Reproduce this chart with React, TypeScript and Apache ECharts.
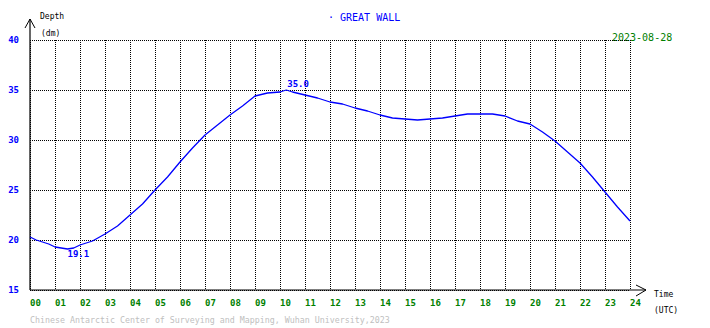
import React, { useEffect, useRef } from "react";
import * as echarts from "echarts";

const hours = [
  0, 0.25, 0.5, 0.75, 1, 1.25, 1.5, 1.75, 2, 2.5, 3, 3.5, 4, 4.5, 5, 5.5, 6, 6.5, 7,
  7.5, 8, 8.5, 9, 9.5, 10, 10.25, 10.5, 11, 11.5, 12, 12.5, 13, 13.5, 14, 14.5, 15,
  15.5, 16, 16.5, 17, 17.5, 18, 18.5, 19, 19.5, 20, 20.5, 21, 21.5, 22, 22.5, 23,
  23.5, 24,
];
const depth = [
  20.3, 20.0, 19.8, 19.6, 19.3, 19.2, 19.1, 19.2, 19.5, 19.9, 20.6, 21.4, 22.5, 23.6,
  25.0, 26.3, 27.8, 29.2, 30.5, 31.5, 32.5, 33.4, 34.4, 34.7, 34.8, 35.0, 34.8, 34.5,
  34.2, 33.8, 33.6, 33.2, 32.9, 32.5, 32.2, 32.1, 32.0, 32.1, 32.2, 32.4, 32.6, 32.6,
  32.6, 32.4, 31.9, 31.6, 30.8, 29.9, 28.8, 27.7, 26.3, 24.8, 23.3, 21.9,
];
const stationTitle = "· GREAT WALL";
const dateText = "2023-08-28";
const footerText =
  "Chinese Antarctic Center of Surveying and Mapping, Wuhan University,2023";

const MONO = "'DejaVu Sans Mono', 'Liberation Mono', monospace";

export default function App() {
  const ref = useRef<HTMLDivElement>(null);
  useEffect(() => {
    if (!ref.current) return;
    const chart = echarts.init(ref.current, null, { renderer: "svg" });
    const seriesData = hours.map((h, i) => [h, depth[i]]);
    chart.setOption({
      animation: false,
      backgroundColor: "#ffffff",
      grid: { left: 30, right: 80, top: 40, bottom: 38, containLabel: false },
      xAxis: {
        type: "value",
        min: 0,
        max: 24,
        interval: 1,
        axisLine: { show: false },
        axisTick: { show: false },
        axisLabel: {
          color: "#008000",
          fontFamily: MONO,
          fontSize: 9,
          fontWeight: "bold",
          align: "left",
          margin: 8,
          formatter: (v: number) => String(v).padStart(2, "0"),
        },
        splitLine: { show: true, lineStyle: { color: "#000", type: [1, 1], width: 1 } },
      },
      yAxis: {
        type: "value",
        min: 15,
        max: 40,
        interval: 5,
        axisLine: { show: false },
        axisTick: { show: false },
        axisLabel: {
          color: "#0000ff",
          fontFamily: MONO,
          fontSize: 9,
          fontWeight: "bold",
          margin: 11,
          padding: [0, 0, 4, 0],
        },
        splitLine: { show: true, lineStyle: { color: "#000", type: [1, 1], width: 1 } },
      },
      graphic: [
        { type: "line", shape: { x1: 30, y1: 290, x2: 30, y2: 19 }, style: { stroke: "#000", lineWidth: 1.2 } },
        { type: "polyline", shape: { points: [[25, 28], [30, 19], [35, 28]] }, style: { stroke: "#000", fill: "none", lineWidth: 1 } },
        { type: "line", shape: { x1: 30, y1: 290, x2: 646, y2: 290 }, style: { stroke: "#000", lineWidth: 1.2 } },
        { type: "polyline", shape: { points: [[636, 285], [646, 290], [636, 296]] }, style: { stroke: "#000", fill: "none", lineWidth: 1 } },
        { type: "text", x: 40, y: 16, style: { text: "Depth", fill: "#000", font: `8px ${MONO}`, verticalAlign: "middle" } },
        { type: "text", x: 41, y: 33.5, style: { text: "(dm)", fill: "#000", font: `8px ${MONO}`, verticalAlign: "middle" } },
        { type: "text", x: 654, y: 294, style: { text: "Time", fill: "#000", font: `8px ${MONO}`, verticalAlign: "middle" } },
        { type: "text", x: 654, y: 310, style: { text: "(UTC)", fill: "#000", font: `8px ${MONO}`, verticalAlign: "middle" } },
        { type: "text", x: 328, y: 17, style: { text: stationTitle, fill: "#0000ff", font: `10px ${MONO}`, verticalAlign: "middle" } },
        { type: "text", x: 612, y: 37, style: { text: dateText, fill: "#008000", font: `10px ${MONO}`, verticalAlign: "middle" } },
        { type: "text", x: 30, y: 320, style: { text: footerText, fill: "#c0c0c0", font: `8.3px ${MONO}`, verticalAlign: "middle" } },
      ],
      series: [
        {
          type: "line",
          data: seriesData,
          showSymbol: false,
          lineStyle: { color: "#0000ff", width: 1.3 },
          markPoint: {
            symbol: "circle",
            symbolSize: 0,
            label: {
              show: true,
              color: "#0000ff",
              fontFamily: MONO,
              fontSize: 9,
              fontWeight: "bold",
              position: "inside",
              align: "left",
              verticalAlign: "middle",
              formatter: (p: any) => Number(p.value).toFixed(1),
            },
            data: [
              { type: "max", label: { offset: [1, -6] } },
              { type: "min", label: { offset: [0, 5] } },
            ],
          },
        },
      ],
    });
    return () => chart.dispose();
  }, []);
  return (
    <div
      ref={ref}
      style={{ position: "fixed", left: 0, top: 0, width: 710, height: 328 }}
    />
  );
}
